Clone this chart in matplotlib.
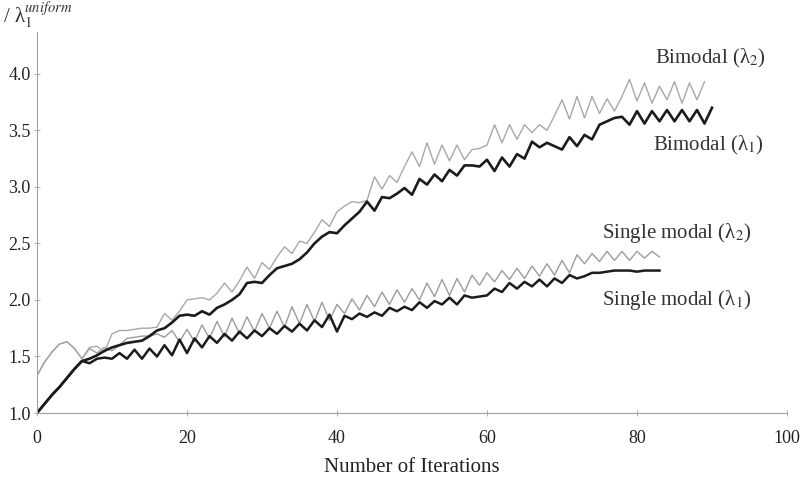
import matplotlib
matplotlib.use("Agg")
import matplotlib.pyplot as plt

# values, one per iteration
bimodal_l1 = [1.00, 1.08, 1.16, 1.23, 1.31, 1.39, 1.46, 1.48, 1.51, 1.55,
              1.58, 1.60, 1.62, 1.63, 1.64, 1.68, 1.73, 1.75, 1.80, 1.86,
              1.87, 1.86, 1.90, 1.87, 1.93, 1.96, 2.00, 2.05, 2.15, 2.16,
              2.15, 2.22, 2.28, 2.30, 2.32, 2.36, 2.42, 2.50, 2.56, 2.60,
              2.59, 2.66, 2.72, 2.78, 2.87, 2.79, 2.91, 2.90, 2.94, 2.99,
              2.93, 3.07, 3.02, 3.11, 3.05, 3.15, 3.10, 3.19, 3.19, 3.18,
              3.24, 3.14, 3.26, 3.18, 3.29, 3.25, 3.40, 3.35, 3.39, 3.36,
              3.33, 3.44, 3.36, 3.46, 3.42, 3.55, 3.58, 3.61, 3.62, 3.55,
              3.67, 3.56, 3.67, 3.58, 3.68, 3.58, 3.68, 3.58, 3.68, 3.56,
              3.70]
bimodal_l2 = [1.33, 1.45, 1.54, 1.61, 1.63, 1.57, 1.48, 1.58, 1.59, 1.54,
              1.70, 1.73, 1.73, 1.74, 1.75, 1.75, 1.76, 1.88, 1.82, 1.90,
              2.00, 2.01, 2.02, 2.00, 2.06, 2.15, 2.07, 2.17, 2.29, 2.19,
              2.33, 2.27, 2.38, 2.47, 2.41, 2.52, 2.50, 2.60, 2.71, 2.65,
              2.78, 2.83, 2.87, 2.86, 2.88, 3.09, 2.98, 3.10, 3.04, 3.18,
              3.31, 3.18, 3.39, 3.20, 3.37, 3.23, 3.37, 3.24, 3.33, 3.34,
              3.37, 3.55, 3.39, 3.55, 3.42, 3.55, 3.48, 3.55, 3.50, 3.63,
              3.77, 3.60, 3.80, 3.61, 3.80, 3.65, 3.78, 3.67, 3.80, 3.95,
              3.76, 3.92, 3.74, 3.89, 3.77, 3.93, 3.74, 3.92, 3.77, 3.93]
single_l1 = [1.00, 1.08, 1.16, 1.23, 1.31, 1.39, 1.46, 1.44, 1.48, 1.49,
             1.48, 1.53, 1.48, 1.56, 1.48, 1.57, 1.50, 1.60, 1.51, 1.65,
             1.53, 1.66, 1.58, 1.68, 1.62, 1.70, 1.64, 1.72, 1.66, 1.73,
             1.68, 1.75, 1.70, 1.77, 1.72, 1.79, 1.73, 1.82, 1.76, 1.87,
             1.72, 1.86, 1.83, 1.88, 1.85, 1.89, 1.86, 1.93, 1.90, 1.94,
             1.91, 1.98, 1.93, 1.99, 1.96, 2.02, 1.96, 2.04, 2.02, 2.03,
             2.04, 2.10, 2.07, 2.15, 2.10, 2.16, 2.12, 2.18, 2.12, 2.19,
             2.15, 2.22, 2.19, 2.21, 2.24, 2.24, 2.25, 2.26, 2.26, 2.26,
             2.25, 2.26, 2.26, 2.26]
single_l2 = [1.33, 1.45, 1.54, 1.61, 1.63, 1.57, 1.48, 1.57, 1.53, 1.58,
             1.55, 1.60, 1.66, 1.67, 1.68, 1.68, 1.70, 1.67, 1.73, 1.63,
             1.74, 1.63, 1.78, 1.66, 1.81, 1.675, 1.84, 1.70, 1.85, 1.72,
             1.88, 1.75, 1.90, 1.76, 1.94, 1.79, 1.96, 1.81, 1.98, 1.82,
             1.96, 1.88, 2.01, 1.91, 2.04, 1.94, 2.07, 1.96, 2.09, 1.98,
             2.10, 2.00, 2.15, 2.03, 2.18, 2.04, 2.19, 2.07, 2.22, 2.13,
             2.24, 2.16, 2.26, 2.18, 2.28, 2.19, 2.30, 2.21, 2.32, 2.22,
             2.35, 2.24, 2.40, 2.32, 2.41, 2.34, 2.43, 2.35, 2.43, 2.35,
             2.43, 2.37, 2.43, 2.38]

x_ticks = [0, 20, 40, 60, 80, 100]
y_ticks = [1.0, 1.5, 2.0, 2.5, 3.0, 3.5, 4.0]
labels = ["Bimodal (λ$_2$)", "Bimodal (λ$_1$)",
          "Single modal (λ$_2$)", "Single modal (λ$_1$)"]

plt.rcParams["font.family"] = ["Liberation Serif", "DejaVu Serif"]
plt.rcParams["mathtext.fontset"] = "stix"

fig = plt.figure(figsize=(8.1, 4.84), dpi=100)
ax = fig.add_axes([37 / 810, 1 - 413 / 484, 750 / 810, 381 / 484])

ax.plot(range(len(single_l2)), single_l2, color="#9c9c9c", lw=1.0)
ax.plot(range(len(bimodal_l2)), bimodal_l2, color="#a8a8a8", lw=1.0)
ax.plot(range(len(single_l1)), single_l1, color="#1c1c1c", lw=1.8)
ax.plot(range(len(bimodal_l1)), bimodal_l1, color="#1c1c1c", lw=1.9)

ax.set_xlim(0, 100)
ax.set_ylim(1.0, 4.37)
ax.set_xticks(x_ticks)
ax.set_yticks(y_ticks)
ax.set_yticklabels(["%.1f" % v for v in y_ticks])

for side in ["top", "right"]:
    ax.spines[side].set_visible(False)
for side in ["left", "bottom"]:
    ax.spines[side].set_color("#a0a0a0")
    ax.spines[side].set_linewidth(0.8)
ax.tick_params(axis="both", direction="inout", length=5, width=0.6,
               color="#a0a0a0", labelsize=13, labelcolor="#222222")
ax.tick_params(axis="x", pad=10)
ax.tick_params(axis="y", pad=2)

ax.set_xlabel("Number of Iterations", fontsize=15, color="#222222", labelpad=8)

# curve names next to the curve ends
ax.text(82.4, 4.14, labels[0], fontsize=15, color="#333333", va="center")
ax.text(82.1, 3.37, labels[1], fontsize=15, color="#333333", va="center")
ax.text(75.3, 2.59, labels[2], fontsize=15, color="#333333", va="center")
ax.text(75.3, 2.00, labels[3], fontsize=15, color="#333333", va="center")

# y label at the top-left corner
fig.text(0.004, 1 - 23 / 484, "/ λ$_1^{uniform}$", fontsize=15, color="#333333",
         va="baseline", ha="left")

fig.savefig("out.png", dpi=100)
